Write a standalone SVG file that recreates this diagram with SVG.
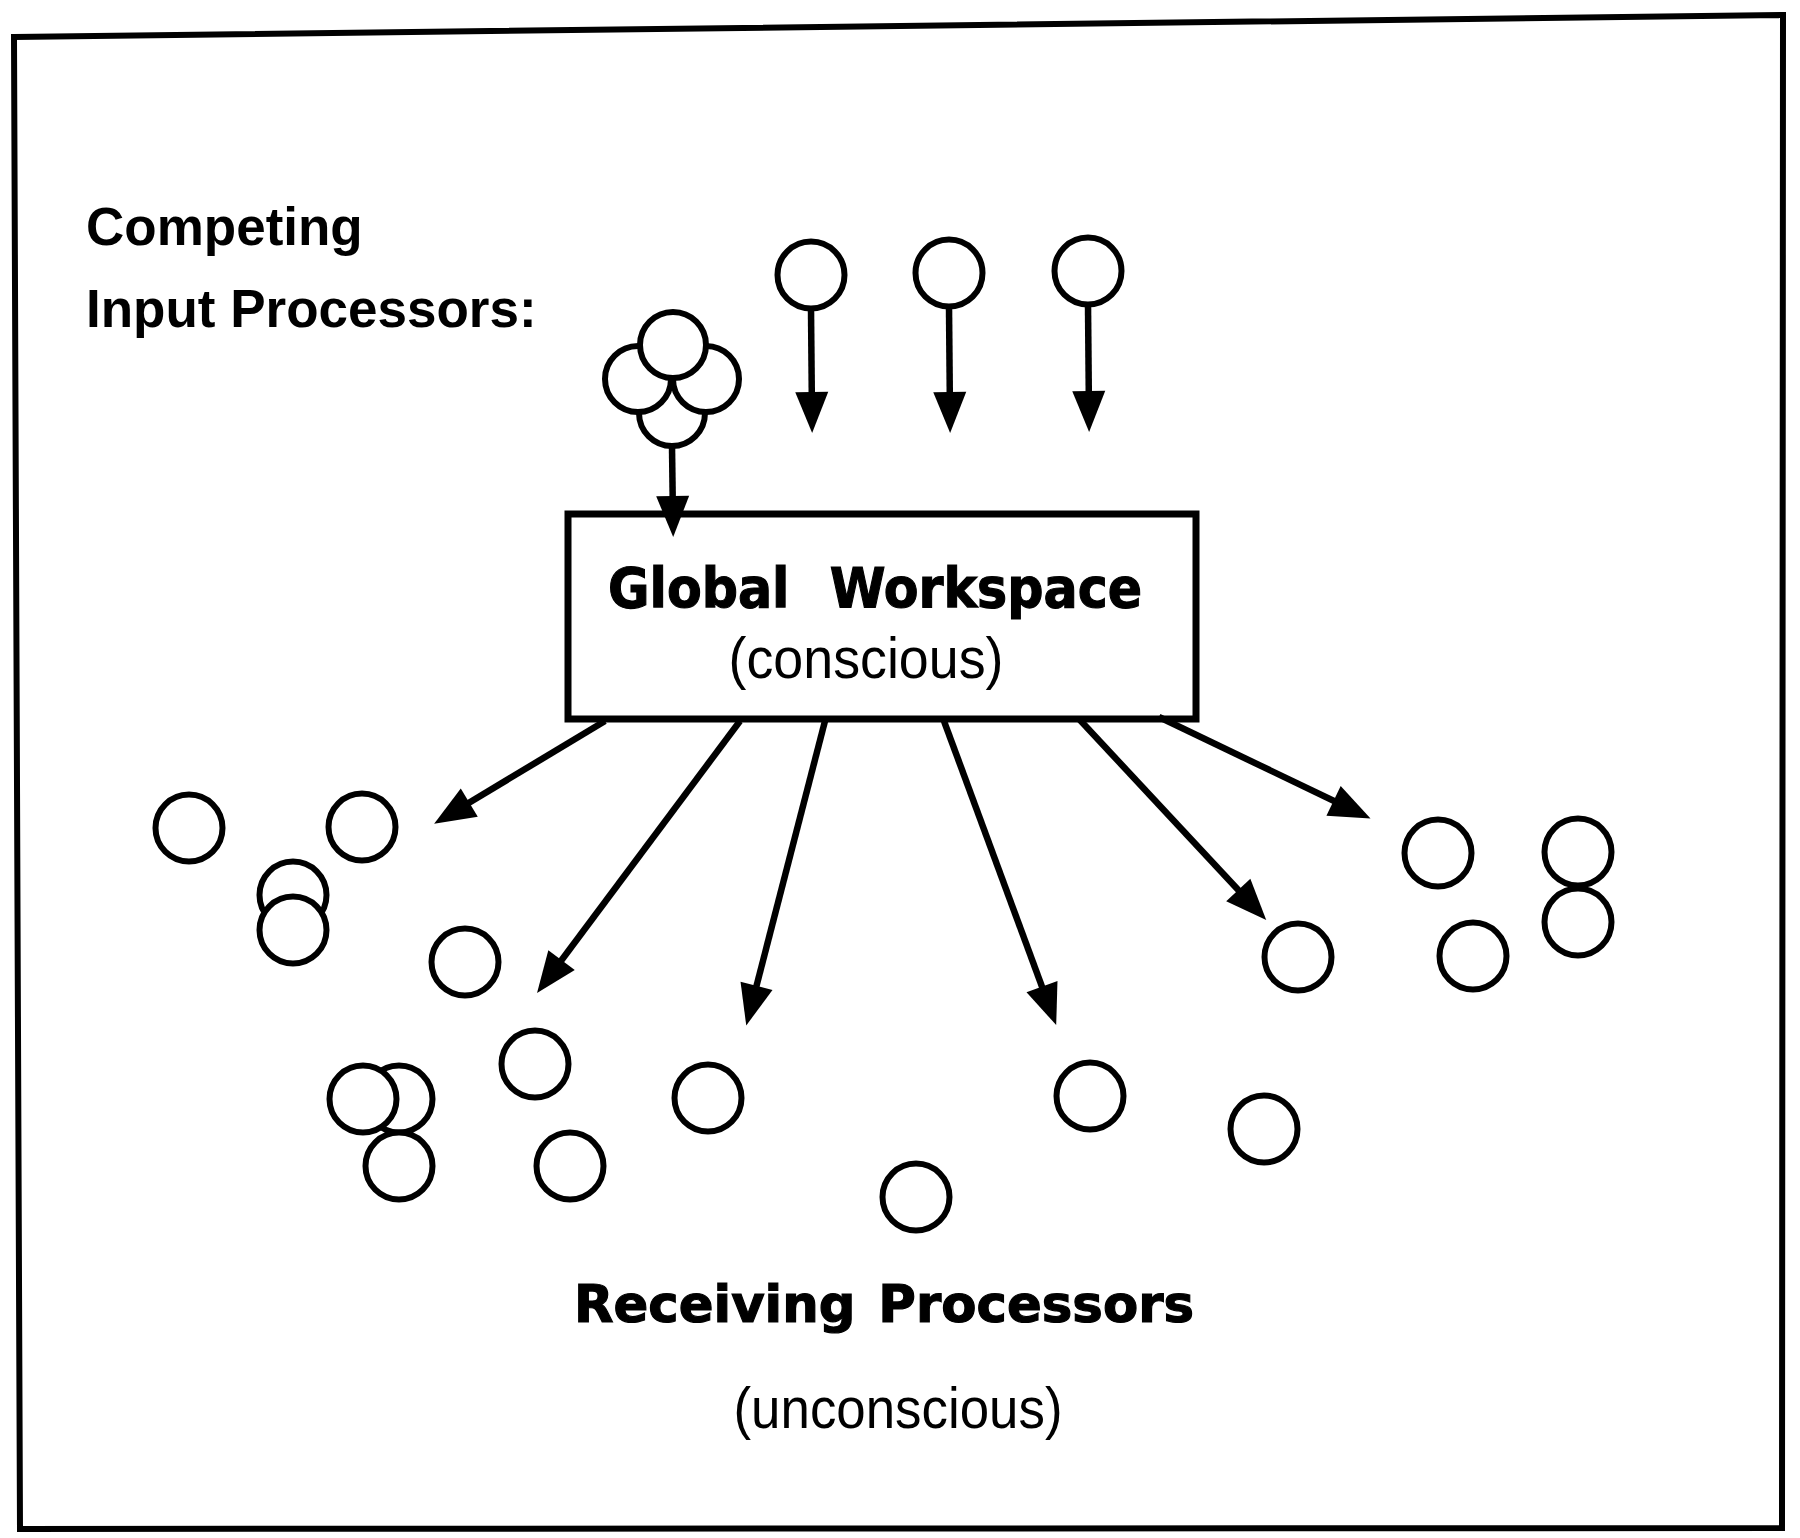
<svg xmlns="http://www.w3.org/2000/svg" width="1800" height="1538" viewBox="0 0 1800 1538">
<style>
.c{fill:#fff;stroke:#000;stroke-width:6}
.ln{fill:none;stroke:#000;stroke-width:6.5}
.hd{font-family:'Liberation Sans',Arial,sans-serif;font-weight:bold;font-size:53px;fill:#000}
.sb{font-family:'Liberation Sans',Arial,sans-serif;font-size:57px;fill:#000}
.tt{font-family:'DejaVu Sans',sans-serif;font-weight:bold;fill:#000;stroke:#000;stroke-width:1.2}
</style>
<defs>
<marker id="ah" markerUnits="userSpaceOnUse" markerWidth="60" markerHeight="40" viewBox="0 -20 44 40" refX="26" refY="0" orient="auto">
<path d="M0,-16.5 L41,0 L0,16.5 Z" fill="#000"/>
</marker>
</defs>
<rect width="1800" height="1538" fill="#fff"/>
<path id="frame" d="M14,37 L1783,15 L1782,1528 L20,1529 Z" fill="none" stroke="#000" stroke-width="6"/>

<g id="label-input">
<text class="hd" x="86" y="245">Competing</text>
<text class="hd" x="86" y="327">Input Processors:</text>
</g>

<g id="input-cluster">
<circle class="c" cx="672" cy="413" r="33"/>
<circle class="c" cx="638" cy="379" r="33"/>
<circle class="c" cx="706" cy="379" r="33"/>
<circle class="c" cx="673" cy="345" r="33"/>
</g>
<g id="input-a"><circle class="c" cx="811" cy="275" r="33.5"/></g>
<g id="input-b"><circle class="c" cx="949" cy="273" r="33.5"/></g>
<g id="input-c"><circle class="c" cx="1088" cy="271" r="33.5"/></g>

<g id="global-workspace">
<rect x="568" y="514" width="628" height="205" fill="#fff" stroke="#000" stroke-width="7"/>
<text class="tt" x="608" y="607" font-size="56" word-spacing="25" textLength="534" lengthAdjust="spacingAndGlyphs">Global Workspace</text>
<text class="sb" x="866" y="678" text-anchor="middle" textLength="275" lengthAdjust="spacingAndGlyphs">(conscious)</text>
</g>

<g id="connectors" marker-end="url(#ah)">
<line class="ln" x1="672" y1="446" x2="673" y2="522"/>
<line class="ln" x1="811" y1="309" x2="812" y2="418"/>
<line class="ln" x1="949" y1="307" x2="950" y2="418"/>
<line class="ln" x1="1088" y1="305" x2="1089" y2="417"/>
<line class="ln" x1="605" y1="721" x2="447" y2="816"/>
<line class="ln" x1="740" y1="721" x2="546" y2="981"/>
<line class="ln" x1="825" y1="721" x2="750" y2="1011"/>
<line class="ln" x1="944" y1="721" x2="1051" y2="1011"/>
<line class="ln" x1="1079" y1="719" x2="1256" y2="909"/>
<line class="ln" x1="1159" y1="717" x2="1357" y2="812"/>
</g>

<g id="receivers">
<g id="r1"><circle class="c" cx="189" cy="828" r="33.5"/></g>
<g id="r2"><circle class="c" cx="362" cy="827" r="33.5"/></g>
<g id="r3"><circle class="c" cx="293" cy="895" r="33.5"/><circle class="c" cx="293" cy="930" r="33.5"/></g>
<g id="r4"><circle class="c" cx="465" cy="962" r="33.5"/></g>
<g id="r5"><circle class="c" cx="535" cy="1064" r="33.5"/></g>
<g id="r6"><circle class="c" cx="399" cy="1099" r="33.5"/><circle class="c" cx="363" cy="1099" r="33.5"/><circle class="c" cx="399" cy="1166" r="33.5"/></g>
<g id="r7"><circle class="c" cx="570" cy="1166" r="33.5"/></g>
<g id="r8"><circle class="c" cx="708" cy="1098" r="33.5"/></g>
<g id="r9"><circle class="c" cx="916" cy="1197" r="33.5"/></g>
<g id="r10"><circle class="c" cx="1090" cy="1096" r="33.5"/></g>
<g id="r11"><circle class="c" cx="1264" cy="1129" r="33.5"/></g>
<g id="r12"><circle class="c" cx="1298" cy="957" r="33.5"/></g>
<g id="r13"><circle class="c" cx="1438" cy="853" r="33.5"/></g>
<g id="r14"><circle class="c" cx="1473" cy="956" r="33.5"/></g>
<g id="r15"><circle class="c" cx="1578" cy="852" r="33.5"/><circle class="c" cx="1578" cy="922" r="33.5"/></g>
</g>

<g id="label-receiving">
<text class="tt" x="574" y="1322" font-size="51" word-spacing="5" textLength="620" lengthAdjust="spacingAndGlyphs">Receiving Processors</text>
<text class="sb" x="898" y="1428" text-anchor="middle" textLength="329" lengthAdjust="spacingAndGlyphs">(unconscious)</text>
</g>
</svg>
